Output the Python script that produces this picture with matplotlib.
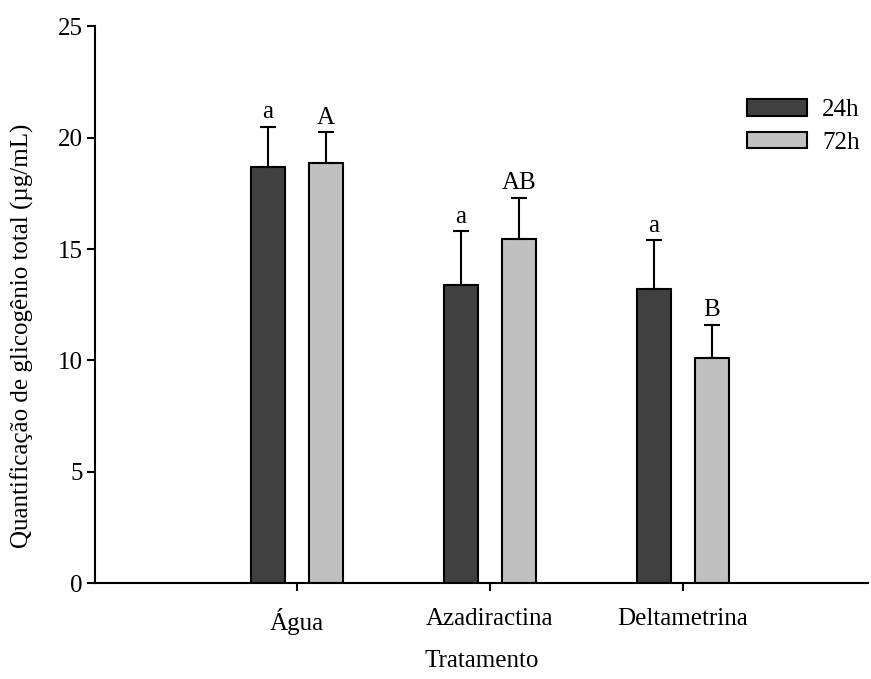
import matplotlib
matplotlib.use("Agg")
import matplotlib.pyplot as plt
import numpy as np

categories = ["Água", "Azadiractina", "Deltametrina"]
series_names = ["24h", "72h"]
means_24h = [18.7, 13.4, 13.2]
err_24h = [1.8, 2.4, 2.2]
means_72h = [18.85, 15.45, 10.1]
err_72h = [1.4, 1.85, 1.5]
letters_24h = ["a", "a", "a"]
letters_72h = ["A", "AB", "B"]

plt.rcParams['font.family'] = ['Liberation Serif', 'DejaVu Serif']
FS = 18

fig = plt.figure(figsize=(8.71, 6.79), dpi=100)
ax = fig.add_axes([95/871, 1-583/679, (868-95)/871, (583-26.4)/679])

x = np.arange(len(categories))
w = 0.18
off = 0.15
c24 = "#404040"
c72 = "#c0c0c0"

for xs, m, e, col, lab, lets in [(x-off, means_24h, err_24h, c24, series_names[0], letters_24h),
                                  (x+off, means_72h, err_72h, c72, series_names[1], letters_72h)]:
    ax.bar(xs, m, width=w, color=col, edgecolor="black", linewidth=1.5, label=lab, zorder=2)
    ax.errorbar(xs, m, yerr=[np.zeros(len(m)), e], fmt="none", ecolor="black",
                elinewidth=1.5, capsize=5.5, capthick=1.5, zorder=3)
    for xi, mi, ei, li in zip(xs, m, e, lets):
        ax.text(xi, mi+ei+0.15, li, ha="center", va="bottom", fontsize=FS)

ax.set_xlim(-1.047, 2.959)
ax.set_ylim(0, 25)
ax.set_yticks([0, 5, 10, 15, 20, 25])
ax.set_xticks(x)
ax.set_xticklabels(categories)
ax.tick_params(axis="both", direction="out", length=6, width=1.5, labelsize=FS)
ax.tick_params(axis="y", pad=3)
ax.tick_params(axis="x", pad=12)
for s in ["top", "right"]:
    ax.spines[s].set_visible(False)
for s in ["left", "bottom"]:
    ax.spines[s].set_linewidth(1.5)

ax.set_xlabel("Tratamento", fontsize=FS, labelpad=11)
ax.set_ylabel("Quantificação de glicogênio total (µg/mL)", fontsize=FS)
ax.yaxis.set_label_coords(-(95-34)/773, 0.445)

leg = fig.legend(*ax.get_legend_handles_labels(), loc="upper left",
                 bbox_to_anchor=(747/871, 1-99/679), bbox_transform=fig.transFigure,
                 frameon=False, fontsize=FS, borderpad=0, borderaxespad=0,
                 handlelength=2.4, handleheight=0.65, labelspacing=0.42, handletextpad=0.6)

fig.savefig("out.png", dpi=100)
